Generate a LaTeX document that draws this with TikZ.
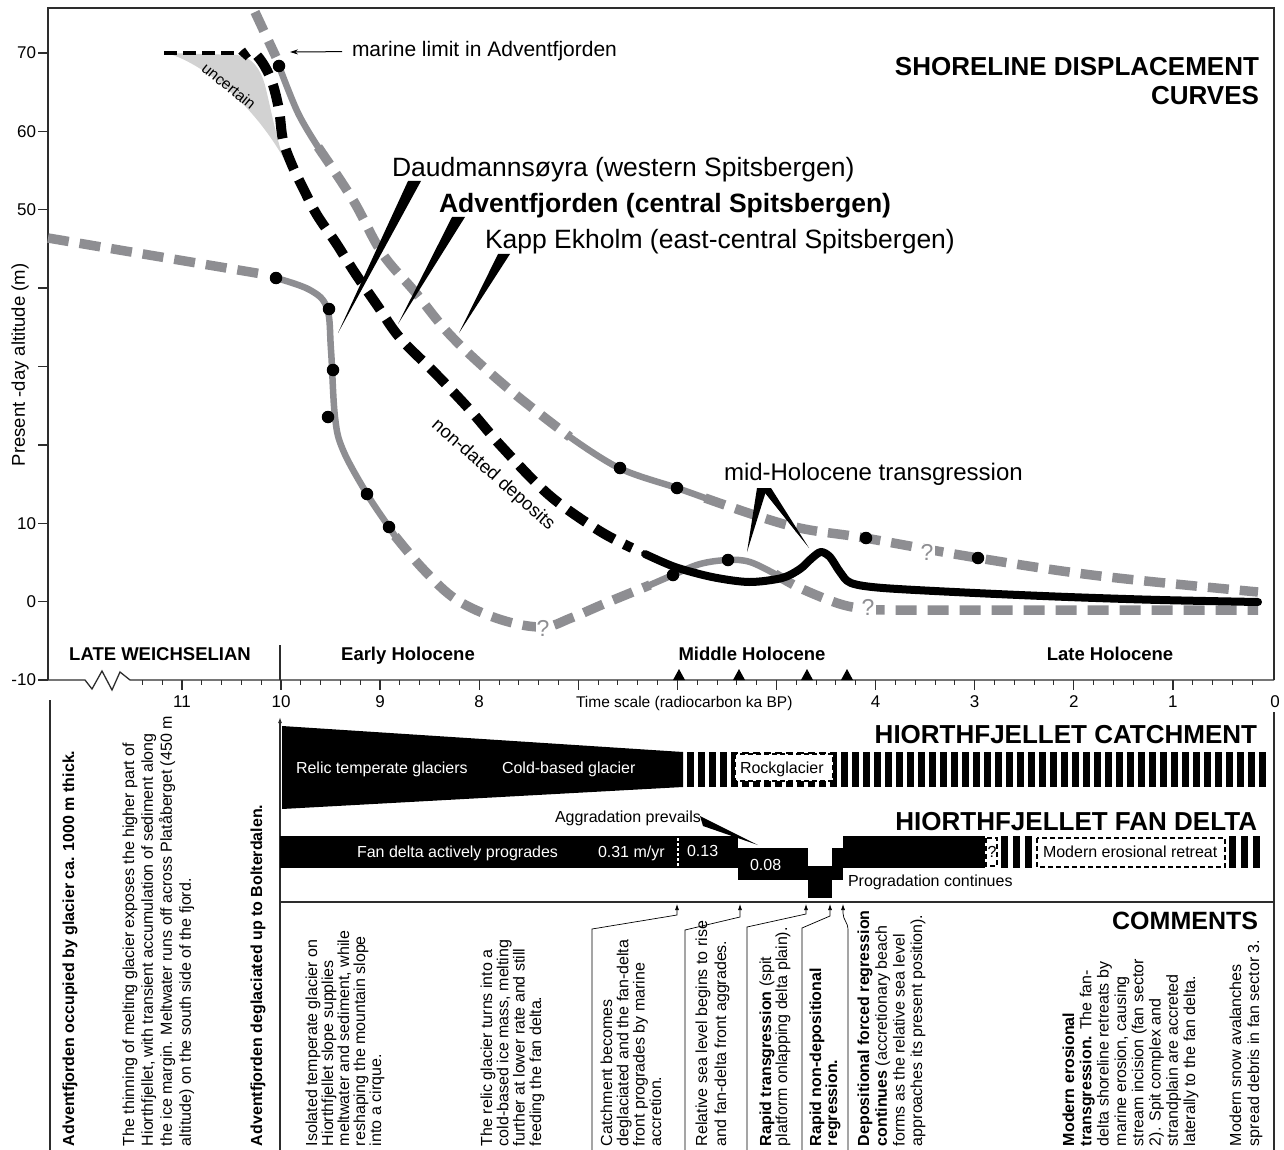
\documentclass[tikz,border=0pt]{standalone}
\usepackage{fontspec}
\setmainfont{Liberation Sans}
\usetikzlibrary{arrows.meta}
\definecolor{cgray}{RGB}{142,142,146}
\definecolor{cfill}{RGB}{210,210,210}
\definecolor{cframe}{RGB}{45,45,45}
\newcommand{\myfs}[2]{\fontsize{#1}{#2}\selectfont}
\begin{document}
\begin{tikzpicture}[x=1pt,y=-1pt,
  lbl/.style={inner sep=0pt, outer sep=0pt},
  graydash/.style={draw=cgray, line width=9.5pt, dash pattern=on 21pt off 11pt},
  graysolid/.style={draw=cgray, line width=6.5pt, line cap=round, line join=round},
  blackdash/.style={draw=black, line width=10pt, dash pattern=on 22pt off 11pt},
  blacksolid/.style={draw=black, line width=8pt, line join=round, line cap=round},
  dot/.style={circle, fill=black, inner sep=0pt, minimum size=12.5pt},
  frameline/.style={draw=cframe, line width=1.3pt},
  lead/.style={draw=black, line width=0.7pt, -{Latex[length=6pt,width=4pt]}},
  qmark/.style={lbl, text=cgray, font=\myfs{23}{24}},
  com/.style={lbl, rotate=90, anchor=north west, align=left},
  curvelbl/.style={lbl, anchor=base west, font=\myfs{26.5}{28}},
  bigtitle/.style={lbl, anchor=base east, font=\bfseries\myfs{26}{28}},
  period/.style={lbl, anchor=base, font=\bfseries\myfs{18.5}{20}},
  tnum/.style={lbl, anchor=base, font=\myfs{17}{19}},
  ynum/.style={lbl, anchor=east, font=\myfs{17}{19}},
  band/.style={lbl, anchor=base west, font=\myfs{16}{18}},
  dbox/.style={fill=white, draw=black, line width=2pt, dash pattern=on 5pt off 3pt}
]
\useasboundingbox (0,0) rectangle (1284,1150);
\fill[white] (0,0) rectangle (1284,1150);

% ---------- frame and axes ----------
\draw[frameline] (48,680) -- (48,8) -- (1274,8) -- (1274,680);
\draw[frameline] (1274,712) -- (1274,1150);
\draw[frameline] (48,680) -- (85,680) -- (92,689) -- (102,671) -- (112,690) -- (120,672) -- (130,680) -- (1274,680);
\foreach \i in {1,...,57} \draw[frameline, line width=1pt] ({1272-19.82*\i},680) -- ++(0,5);
\foreach \t in {1,...,11} \draw[frameline] ({1272-99.1*\t},680) -- ++(0,10);
\foreach \h in {70,60,50,40,30,20,10,0,-10} \draw[frameline] (38,{601.7-7.84*\h}) -- (48,{601.7-7.84*\h});
\foreach \h/\n in {70/y70,60/y60,50/y50,10/y10,0/y0,-10/ym10} \node[ynum] (\n) at (36,{601.7-7.84*\h}) {\h};
\foreach \t/\n in {11/x11,10/x10,9/x9,8/x8,4/x4,3/x3,2/x2,1/x1} \node[tnum] (\n) at ({1272-99.1*\t},707) {\t};
\node[tnum] (x0) at (1275,707) {0};
\node[lbl, rotate=90, font=\myfs{18.5}{20}] (ylab) at (20,365) {Present -day altitude (m)};
\node[lbl, anchor=base west, font=\myfs{15.5}{17}] (tscale) at (576,707) {Time scale (radiocarbon ka BP)};
\draw[frameline] (280,645) -- (280,680);
\node[period] (lw) at (160,660) {LATE WEICHSELIAN};
\node[period] (eh) at (408,660) {Early Holocene};
\node[period] (mh) at (752,660) {Middle Holocene};
\node[period] (lh) at (1110,660) {Late Holocene};
\foreach \x in {679,739,807,847} \fill (\x-6,680) -- (\x+6,680) -- (\x,669) -- cycle;

% ---------- uncertain area ----------
\fill[cfill] (166,53) -- (237,55) .. controls (252,57) and (260,68) .. (265,85)
  .. controls (271,110) and (277,140) .. (283,157)
  .. controls (266,128) and (242,98) .. (207,73) .. controls (190,62) and (178,56) .. (166,53) -- cycle;
\node[lbl, rotate=-39, font=\myfs{15.5}{17}] (unc) at (229,86) {uncertain};

% ---------- Kapp Ekholm (grey) ----------
\draw[graydash] (255,12) -- (276,57);
\draw[graysolid] plot[smooth, tension=0.6] coordinates {(279,66) (298,113) (318,147)};
\draw[graydash] plot[smooth, tension=0.6] coordinates {(318,147) (353,200) (382,253) (415,292) (453,338) (510,390) (570,437)};
\draw[graysolid] plot[smooth, tension=0.6] coordinates {(570,437) (619,468) (677,488) (705,498)};
\draw[graydash] plot[smooth, tension=0.6] coordinates {(705,498) (791,526) (865,538) (978,558) (1100,576) (1258,592)};

% ---------- Daudmannsoyra (grey) ----------
\draw[graydash] (48,238) -- (268,275);
\draw[graysolid] plot[smooth, tension=0.6] coordinates {(276,278) (310,290) (327,308) (331,350) (335,417) (343,450) (367,494) (389,527) (395,536)};
\draw[graydash] plot[smooth, tension=0.6] coordinates {(395,536) (424,570) (457,600) (502,620) (543,627) (571,618) (606,603) (650,585)};
\draw[graysolid] plot[smooth, tension=0.6] coordinates {(650,585) (673,575) (700,564) (728,560) (750,562) (775,574)};
\draw[graydash] plot[smooth, tension=0.6] coordinates {(775,574) (800,588) (840,604) (868,609) (895,610) (1000,610) (1258,610)};

% ---------- Adventfjorden (black) ----------
\draw[draw=black, line width=4pt, dash pattern=on 13pt off 6pt] (164,53) -- (240,53);
\draw[blackdash, dash phase=14pt] plot[smooth, tension=0.6] coordinates {(242,57) (251,51) (262,62) (272,82) (279,110) (283,140) (292,165) (304,190) (317,215) (336,243) (355,273) (377,305) (400,338) (435,373) (470,410) (502,447) (549,495) (598,530) (632,548)};
\draw[blacksolid] plot[smooth, tension=0.5] coordinates {(645,554) (675,567) (712,577) (749,582) (782,578) (800,569) (812,558) (821,552) (830,557) (840,572) (851,583) (883,588) (975,593) (1068,597) (1160,600) (1258,602)};

% ---------- dots ----------
\foreach \p/\n in {{(279,66)}/k1,{(620,468)}/k2,{(677,488)}/k3,{(866,538)}/k4,{(978,558)}/k5,
  {(276,278)}/d1,{(329,309)}/d2,{(333,370)}/d3,{(328,417)}/d4,{(367,494)}/d5,{(389,527)}/d6,{(673,575)}/d7,{(728,560)}/d8}
  \node[dot] (\n) at \p {};

% question marks on the curves
\fill[white] (536,620) rectangle (551,636);
\node[qmark] (q1) at (543,628) {?};
\fill[white] (861,600) rectangle (876,616);
\node[qmark] (q2) at (868,607) {?};
\fill[white] (920,544) rectangle (935,560);
\node[qmark] (q3) at (927,552) {?};

\node[lbl, rotate=-41.5, font=\myfs{18.5}{20}] (nd) at (493,475) {non-dated deposits};

% ---------- labels and pointers ----------
\node[curvelbl] (lab1) at (392,177) {Daudmannsøyra (western Spitsbergen)};
\node[curvelbl, font=\bfseries\myfs{26.5}{28}] (lab2) at (439,213) {Adventfjorden (central Spitsbergen)};
\node[curvelbl] (lab3) at (485,248) {Kapp Ekholm (east-central Spitsbergen)};
\fill (408,181) -- (421,181) -- (338,333) -- cycle;
\fill (452,217) -- (465,217) -- (398,324) -- cycle;
\fill (498,254) -- (510,254) -- (459,333) -- cycle;

\node[bigtitle] (sd1) at (1259,76) {SHORELINE DISPLACEMENT};
\node[bigtitle] (sd2) at (1259,105) {CURVES};

\node[lbl, anchor=base west, font=\myfs{21}{23}] (ml) at (352,57) {marine limit in Adventfjorden};
\coordinate (mlpt) at (290,52);
\draw[line width=1pt, -{Stealth[length=8pt,width=5pt]}, shorten <=10pt] (ml.west) -- (mlpt);

\node[lbl, anchor=base west, font=\myfs{24}{26}] (mht) at (724,480) {mid-Holocene transgression};
\fill (757,488) -- (767,488) -- (747,552) -- cycle;
\fill (761,488) -- (771,488) -- (809,548) -- cycle;

% ---------- lower panel frame ----------
\draw[frameline] (50,700) -- (50,1150);
\draw[frameline, -{Latex[length=6pt,width=4pt]}] (280,1150) -- (280,717);
\draw[frameline] (280,902) -- (1274,902);

% ---------- catchment ----------
\node[bigtitle] (hc) at (1257,743) {HIORTHFJELLET CATCHMENT};
\fill (282,726) -- (683,752) -- (683,787) -- (282,809) -- cycle;
\foreach \i in {0,...,52} \fill ({687+11*\i},752) rectangle ++(6.5,35);
\draw[dbox] (735,754) rectangle (833,781);
\node[band] (rg) at (740,773) {Rockglacier};
\node[band, text=white] (rtg) at (296,773) {Relic temperate glaciers};
\node[band, text=white] (cbg) at (502,773) {Cold-based glacier};

% ---------- fan delta ----------
\node[bigtitle] (hf) at (1257,830) {HIORTHFJELLET FAN DELTA};
\fill (280,836) rectangle (738,868);
\fill (738,848) rectangle (808,880);
\fill (808,866) rectangle (832,898);
\fill (832,848) rectangle (843,880);
\fill (843,836) rectangle (985,868);
\draw[white, line width=1.5pt, dash pattern=on 3pt off 2pt] (678,838) -- (678,866);
\foreach \x in {1001,1013,1025,1229,1241,1253} \fill (\x,836) rectangle ++(7,32);
\draw[dbox] (986,838) rectangle (997,866);
\node[band] (qm) at (987.5,857) {?};
\draw[dbox] (1037,838) rectangle (1225,867);
\node[band] (mer) at (1043,857) {Modern erosional retreat};
\node[band, text=white] (fda) at (357,857) {Fan delta actively progrades};
\node[band, text=white] (r31) at (598,857) {0.31 m/yr};
\node[band, text=white] (r13) at (687,856) {0.13};
\node[band, text=white] (r08) at (750,870) {0.08};
\node[band] (agg) at (555,822) {Aggradation prevails};
\fill (700,816) -- (703,826) -- (758,845) -- cycle;
\node[band] (prog) at (848,886) {Progradation continues};

% ---------- comments ----------
\node[bigtitle, font=\bfseries\myfs{25}{27}] (cm) at (1258,929) {COMMENTS};
\draw[lead] (592,1150) -- (592,929) -- (677,915) -- (677,904);
\draw[lead] (685,1150) -- (685,930) -- (740,917) -- (740,904);
\draw[lead] (747,1150) -- (747,927) -- (806,914) -- (806,904);
\draw[lead] (802,1150) -- (802,928) -- (830,916) -- (830,904);
\draw[lead] (848,1150) -- (848,930) .. controls (848,922) and (843,920) .. (843,913) -- (843,904);

\node[com, font=\bfseries\myfs{16}{18}] (c1) at (62.5,1146) {Adventfjorden occupied by glacier ca. 1000 m thick.};
\node[com, font=\myfs{16}{18.9}] (c2) at (122.5,1146) {The thinning of melting glacier exposes the higher part of\\Hiorthfjellet, with transient accumulation of sediment along\\the ice margin. Meltwater runs off across Platåberget (450 m\\altitude) on the south side of the fjord.};
\node[com, font=\bfseries\myfs{16}{18}] (c3) at (250.5,1146) {Adventfjorden deglaciated up to Bolterdalen.};
\node[com, font=\myfs{16}{16}] (c4) at (305.5,1146) {Isolated temperate glacier on\\Hiorthfjellet slope supplies\\meltwater and sediment, while\\reshaping the mountain slope\\into a cirque.};
\node[com, font=\myfs{16}{16.3}] (c5) at (480.5,1146) {The relic glacier turns into a\\cold-based ice mass, melting\\further at lower rate and still\\feeding the fan delta.};
\node[com, font=\myfs{16}{16.3}] (c6) at (600.5,1146) {Catchment becomes\\deglaciated and the fan-delta\\front progrades by marine\\accretion.};
\node[com, font=\myfs{16}{19}] (c7) at (695.5,1146) {Relative sea level begins to rise\\and fan-delta front aggrades.};
\node[com, font=\myfs{16}{16}] (c8) at (759.5,1146) {\textbf{Rapid transgression} (spit\\platform onlapping delta plain).};
\node[com, font=\bfseries\myfs{16}{16}] (c9) at (809.5,1146) {Rapid non-depositional\\regression.};
\node[com, font=\myfs{16}{17.7}] (c10) at (857.5,1146) {\textbf{Depositional forced regression}\\\textbf{continues} (accretionary beach\\forms as the relative sea level\\approaches its present position).};
\node[com, font=\myfs{16}{17.3}] (c11) at (1062.5,1146) {\textbf{Modern erosional}\\\textbf{transgression.} The fan-\\delta shoreline retreats by\\marine erosion, causing\\stream incision (fan sector\\2). Spit complex and\\strandplain are accreted\\laterally to the fan delta.};
\node[com, font=\myfs{16}{18}] (c12) at (1229.5,1146) {Modern snow avalanches\\spread debris in fan sector 3.};
\end{tikzpicture}
\end{document}
